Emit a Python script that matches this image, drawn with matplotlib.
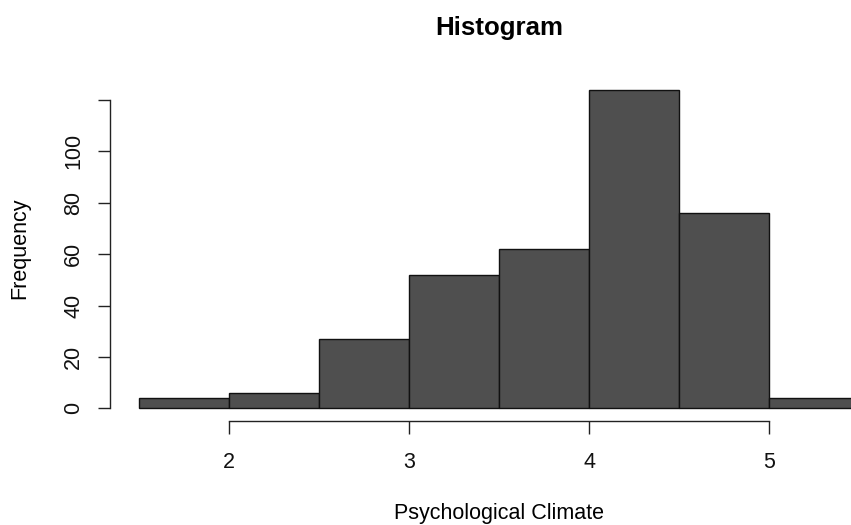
import numpy as np
import matplotlib.pyplot as plt

plt.rcParams['font.family'] = ['Liberation Sans', 'DejaVu Sans']

# bin edges and counts
breaks = [1.5, 2.0, 2.5, 3.0, 3.5, 4.0, 4.5, 5.0, 5.5]
counts = [4, 6, 27, 52, 62, 124, 76, 4]
x_ticks = [2, 3, 4, 5]
y_ticks = [0, 20, 40, 60, 80, 100, 120]
y_labels = ['0', '20', '40', '60', '80', '100', '']

W, H = 851, 525
fig = plt.figure(figsize=(W / 100, H / 100), dpi=100)

# R style plot region: 4% extension on both axes
xlim = (breaks[0] - 0.04 * (breaks[-1] - breaks[0]), breaks[-1] + 0.04 * (breaks[-1] - breaks[0]))
ylim = (-0.04 * max(counts), max(counts) * 1.04)
left, right, top, bottom = 110, 888, 77, 421
ax = fig.add_axes([left / W, 1 - bottom / H, (right - left) / W, (bottom - top) / H])

widths = np.diff(breaks)
ax.bar(breaks[:-1], counts, width=widths, align='edge', color='#4f4f4f',
       edgecolor='#111111', linewidth=1.0)

ax.set_xlim(xlim)
ax.set_ylim(ylim)

for s in ['top', 'right']:
    ax.spines[s].set_visible(False)
ax.spines['left'].set_bounds(0, 120)
ax.spines['bottom'].set_bounds(2, 5)
for s in ['left', 'bottom']:
    ax.spines[s].set_linewidth(1.0)
    ax.spines[s].set_color('#222222')

ax.set_xticks(x_ticks)
ax.set_xticklabels([str(v) for v in x_ticks])
ax.set_yticks(y_ticks)
ax.set_yticklabels(y_labels, rotation=90, va='center')
ax.tick_params(axis='both', length=9, width=1.0, color='#222222',
               labelsize=15.5, labelcolor='#111111')
ax.tick_params(axis='x', pad=13.5)
ax.tick_params(axis='y', pad=9.5)

fig.text((left + right) / 2 / W, 1 - 35 / H, 'Histogram', ha='center', va='baseline',
         fontsize=18.6, fontweight='bold')
fig.text((left + right) / 2 / W, 1 - 519 / H, 'Psychological Climate', ha='center',
         va='baseline', fontsize=15.5)
fig.text(25 / W, 1 - 248 / H, 'Frequency', ha='center', va='baseline',
         rotation=90, rotation_mode='anchor', fontsize=15.5)

fig.savefig('out.png', dpi=100)
